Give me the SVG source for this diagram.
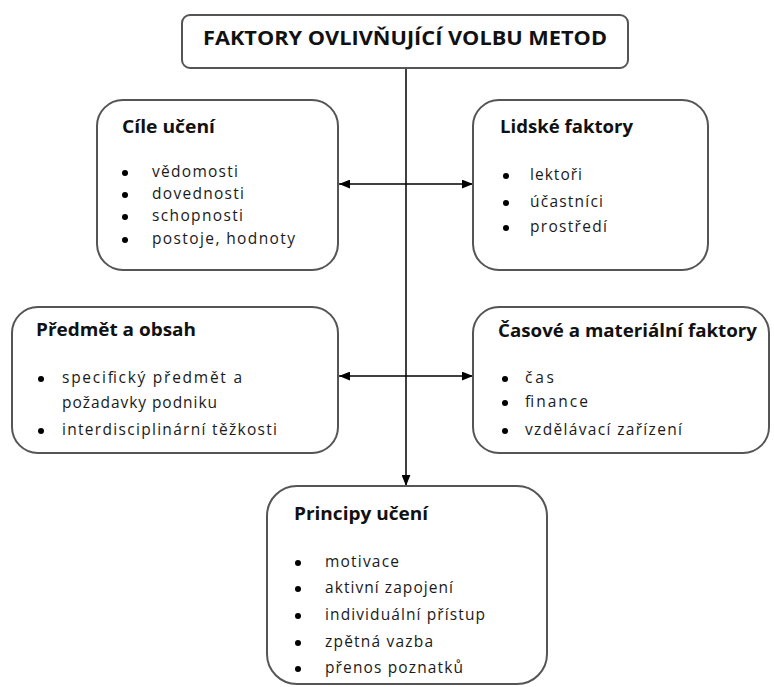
<svg xmlns="http://www.w3.org/2000/svg" width="774" height="687" viewBox="0 0 774 687">
  <defs>
    <marker id="arrow" viewBox="0 0 10 8" refX="10" refY="4" markerWidth="11" markerHeight="9" markerUnits="userSpaceOnUse" orient="auto-start-reverse">
      <path d="M0,0 L10,4 L0,8 Z" fill="#000"/>
    </marker>
    <style>
      .box { fill: #fff; stroke: #555; stroke-width: 2; }
      .head { font-family: "Open Sans", "Liberation Sans", sans-serif; font-weight: bold; font-size: 17px; fill: #111; }
      .title { font-family: "Open Sans", "Liberation Sans", sans-serif; font-weight: bold; font-size: 19px; fill: #111; }
      .item { font-family: "Open Sans", "Liberation Sans", sans-serif; font-size: 15.5px; fill: #1a1a1a; }
      .dot { fill: #000; }
      .link { stroke: #000; stroke-width: 1.5; fill: none; }
    </style>
  </defs>

  <rect width="774" height="687" fill="#fff"/>

  <!-- connectors -->
  <g id="connectors">
    <line class="link" x1="406" y1="68" x2="406" y2="486" marker-end="url(#arrow)"/>
    <line class="link" x1="339" y1="184" x2="473" y2="184" marker-start="url(#arrow)" marker-end="url(#arrow)"/>
    <line class="link" x1="339" y1="376" x2="473" y2="376" marker-start="url(#arrow)" marker-end="url(#arrow)"/>
  </g>

  <!-- title -->
  <g id="title">
    <rect class="box" x="182" y="15" width="446" height="53" rx="8"/>
    <text class="title" x="203" y="45" textLength="404" lengthAdjust="spacingAndGlyphs">FAKTORY OVLIVŇUJÍCÍ VOLBU METOD</text>
  </g>

  <!-- learning goals -->
  <g id="cile-uceni">
    <rect class="box" x="97" y="100" width="241" height="170" rx="26"/>
    <text class="head" x="122" y="133" textLength="93" lengthAdjust="spacingAndGlyphs">Cíle učení</text>
    <circle class="dot" cx="125" cy="173" r="3"/>
    <circle class="dot" cx="125" cy="195" r="3"/>
    <circle class="dot" cx="125" cy="217" r="3"/>
    <circle class="dot" cx="125" cy="240" r="3"/>
    <text class="item" x="152" y="177" textLength="86" lengthAdjust="spacing">vědomosti</text>
    <text class="item" x="152" y="199" textLength="92" lengthAdjust="spacing">dovednosti</text>
    <text class="item" x="152" y="221" textLength="91" lengthAdjust="spacing">schopnosti</text>
    <text class="item" x="152" y="244" textLength="143" lengthAdjust="spacing">postoje, hodnoty</text>
  </g>

  <!-- human factors -->
  <g id="lidske-faktory">
    <rect class="box" x="473" y="100" width="235" height="170" rx="26"/>
    <text class="head" x="500" y="133" textLength="133" lengthAdjust="spacingAndGlyphs">Lidské faktory</text>
    <circle class="dot" cx="506" cy="176" r="3"/>
    <circle class="dot" cx="506" cy="203" r="3"/>
    <circle class="dot" cx="506" cy="228" r="3"/>
    <text class="item" x="530" y="180" textLength="52" lengthAdjust="spacing">lektoři</text>
    <text class="item" x="530" y="207" textLength="73" lengthAdjust="spacing">účastníci</text>
    <text class="item" x="530" y="232" textLength="77" lengthAdjust="spacing">prostředí</text>
  </g>

  <!-- subject and content -->
  <g id="predmet-obsah">
    <rect class="box" x="12" y="307" width="326" height="146" rx="26"/>
    <text class="head" x="36" y="336" textLength="160" lengthAdjust="spacingAndGlyphs">Předmět a obsah</text>
    <circle class="dot" cx="41" cy="379" r="3"/>
    <circle class="dot" cx="41" cy="431" r="3"/>
    <text class="item" x="62" y="383" textLength="180" lengthAdjust="spacing">specifický předmět a</text>
    <text class="item" x="62" y="408" textLength="155" lengthAdjust="spacing">požadavky podniku</text>
    <text class="item" x="62" y="435" textLength="215" lengthAdjust="spacing">interdisciplinární těžkosti</text>
  </g>

  <!-- time and material factors -->
  <g id="casove-materialni">
    <rect class="box" x="473" y="307" width="296" height="146" rx="26"/>
    <text class="head" x="498" y="337" textLength="259" lengthAdjust="spacingAndGlyphs">Časové a materiální faktory</text>
    <circle class="dot" cx="505" cy="379" r="3"/>
    <circle class="dot" cx="505" cy="403" r="3"/>
    <circle class="dot" cx="505" cy="431" r="3"/>
    <text class="item" x="525" y="383" textLength="29" lengthAdjust="spacing">čas</text>
    <text class="item" x="525" y="407" textLength="63" lengthAdjust="spacing">finance</text>
    <text class="item" x="525" y="435" textLength="157" lengthAdjust="spacing">vzdělávací zařízení</text>
  </g>

  <!-- learning principles -->
  <g id="principy-uceni">
    <rect class="box" x="267" y="486" width="280" height="198" rx="30"/>
    <text class="head" x="294" y="520" textLength="134" lengthAdjust="spacingAndGlyphs">Principy učení</text>
    <circle class="dot" cx="298" cy="563" r="3"/>
    <circle class="dot" cx="298" cy="589" r="3"/>
    <circle class="dot" cx="298" cy="616" r="3"/>
    <circle class="dot" cx="298" cy="643" r="3"/>
    <circle class="dot" cx="298" cy="669" r="3"/>
    <text class="item" x="325" y="567" textLength="74" lengthAdjust="spacing">motivace</text>
    <text class="item" x="325" y="593" textLength="128" lengthAdjust="spacing">aktivní zapojení</text>
    <text class="item" x="325" y="620" textLength="160" lengthAdjust="spacing">individuální přístup</text>
    <text class="item" x="325" y="647" textLength="108" lengthAdjust="spacing">zpětná vazba</text>
    <text class="item" x="325" y="673" textLength="138" lengthAdjust="spacing">přenos poznatků</text>
  </g>
</svg>
